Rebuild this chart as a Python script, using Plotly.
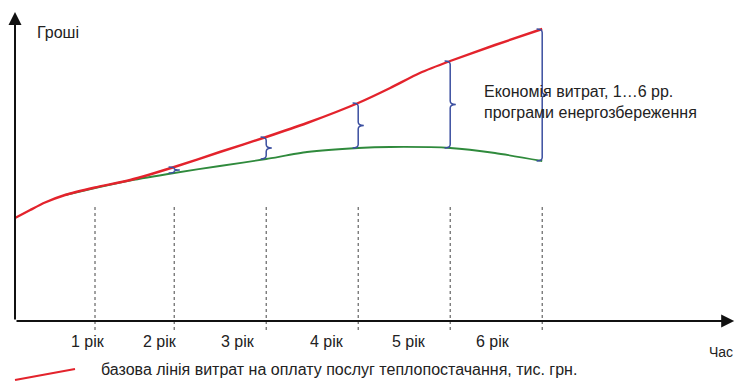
import plotly.graph_objects as go

# ---- data (time in arbitrary units, money in arbitrary units) ----
red_x = [0.0, 0.19, 0.375, 0.625, 1.0, 1.44, 1.99, 2.56, 3.14, 3.65, 4.29, 4.69, 5.06, 5.44, 6.0, 6.59]
red_y = [10.3, 11.1, 11.85, 12.6, 13.35, 14.1, 15.4, 16.9, 18.4, 19.8, 21.8, 23.3, 24.8, 26.0, 27.6, 29.2]

green_x = [0.625, 1.0, 1.44, 1.99, 2.56, 3.14, 3.65, 4.29, 4.69, 5.44, 6.0, 6.59]
green_y = [12.6, 13.3, 14.05, 14.8, 15.5, 16.2, 16.9, 17.3, 17.4, 17.3, 16.8, 16.0]

year_x = [1.0, 1.99, 3.14, 4.29, 5.44, 6.59]
year_labels = ["1 рік", "2 рік", "3 рік", "4 рік", "5 рік", "6 рік"]
label_x = [0.91, 1.81, 2.79, 3.90, 4.93, 5.98]

# savings braces: years 2..6 (top = red value, bottom = green value)
brace_x = [1.99, 3.14, 4.29, 5.44, 6.59]
brace_top = [15.4, 18.4, 21.8, 26.0, 29.2]
brace_bot = [14.8, 16.2, 17.3, 17.3, 16.0]

FONT = "Liberation Sans, Arial, sans-serif"
TXT = "#222222"
RED = "#e3232c"
GREEN = "#2f8a3c"
BLUE = "#3b4fa0"

X0, X1 = -0.1875, 9.0125
Y0, Y1 = -6.2, 32.1

fig = go.Figure()

# dotted year lines
for xv in year_x:
    fig.add_trace(go.Scatter(x=[xv, xv], y=[11.4, -0.9], mode="lines",
                             line=dict(color="#444444", width=1, dash="dot"),
                             hoverinfo="skip", showlegend=False))

fig.add_trace(go.Scatter(x=green_x, y=green_y, mode="lines",
                         line=dict(color=GREEN, width=1.8, shape="spline", smoothing=0.6),
                         showlegend=False))
fig.add_trace(go.Scatter(x=red_x, y=red_y, mode="lines",
                         line=dict(color=RED, width=2.4, shape="spline", smoothing=0.6),
                         showlegend=False))

shapes = []

# braces "}"
def brace_path(x, yt, yb):
    w = 0.07     # hook width (x units)
    tip = 0.07   # tip width
    span = yt - yb
    h = min(0.35, span / 4.0)
    ym = (yt + yb) / 2.0
    p = (f"M {x - w},{yt} Q {x},{yt} {x},{yt - h} "
         f"L {x},{ym + h} Q {x},{ym} {x + tip},{ym} "
         f"Q {x},{ym} {x},{ym - h} "
         f"L {x},{yb + h} Q {x},{yb} {x - w},{yb}")
    return p

for bx, bt, bb in zip(brace_x, brace_top, brace_bot):
    shapes.append(dict(type="path", xref="x", yref="y", path=brace_path(bx, bt, bb),
                       line=dict(color=BLUE, width=1.5)))

# legend key line
shapes.append(dict(type="line", xref="paper", yref="paper",
                   x0=15 / 736, y0=1 - 380 / 383, x1=75 / 736, y1=1 - 369 / 383,
                   line=dict(color=RED, width=2)))

annotations = []
# axes with arrows
annotations.append(dict(x=0, y=30.9, ax=0, ay=0, xref="x", yref="y", axref="x", ayref="y",
                        showarrow=True, arrowhead=2, arrowsize=1.3, arrowwidth=2,
                        arrowcolor="#111111", text=""))
annotations.append(dict(x=8.99, y=0, ax=0, ay=0, xref="x", yref="y", axref="x", ayref="y",
                        showarrow=True, arrowhead=2, arrowsize=1.3, arrowwidth=2,
                        arrowcolor="#111111", text=""))

for lx, lt in zip(label_x, year_labels):
    annotations.append(dict(x=lx, y=-2.0, xref="x", yref="y", text=lt, showarrow=False,
                            font=dict(family=FONT, size=16, color=TXT),
                            xanchor="center", yanchor="middle"))

annotations.append(dict(x=35 / 736, y=1 - 33 / 383, xref="paper", yref="paper", text="Гроші",
                        showarrow=False, xanchor="left", yanchor="middle",
                        font=dict(family=FONT, size=16, color=TXT)))
annotations.append(dict(x=721 / 736, y=1 - 352 / 383, xref="paper", yref="paper", text="Час",
                        showarrow=False, xanchor="center", yanchor="middle",
                        font=dict(family=FONT, size=14, color=TXT)))
annotations.append(dict(x=482 / 736, y=1 - 102 / 383, xref="paper", yref="paper",
                        text="Економія витрат, 1…6 рр.<br>програми енергозбереження",
                        showarrow=False, xanchor="left", yanchor="middle", align="left",
                        font=dict(family=FONT, size=16, color=TXT)))
annotations.append(dict(x=99 / 736, y=1 - 369 / 383, xref="paper", yref="paper",
                        text="базова лінія витрат на оплату послуг теплопостачання, тис. грн.",
                        showarrow=False, xanchor="left", yanchor="middle",
                        font=dict(family=FONT, size=16, color=TXT)))

fig.update_layout(
    width=736, height=383,
    margin=dict(l=0, r=0, t=0, b=0),
    paper_bgcolor="white", plot_bgcolor="white",
    xaxis=dict(range=[X0, X1], visible=False, fixedrange=True),
    yaxis=dict(range=[Y0, Y1], visible=False, fixedrange=True),
    shapes=shapes, annotations=annotations,
    showlegend=False,
)

fig.write_html("out.html")
